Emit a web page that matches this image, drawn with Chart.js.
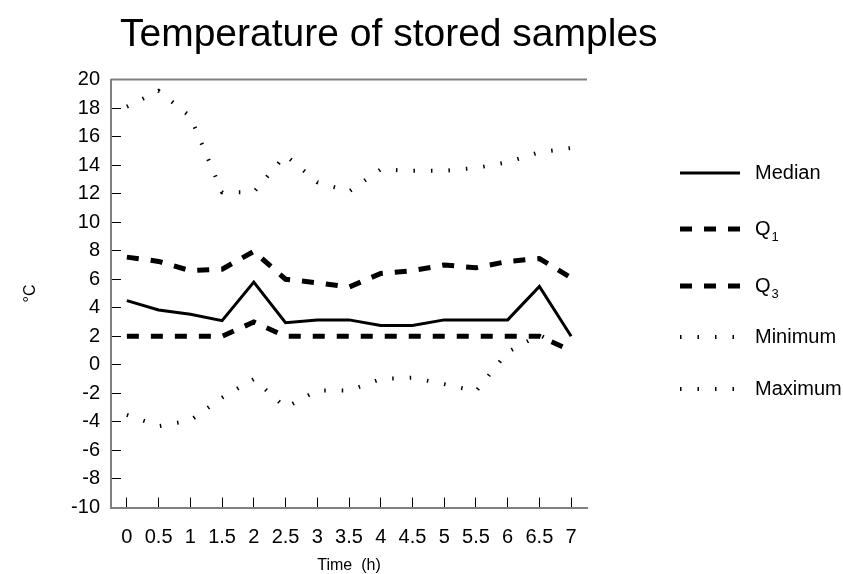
<!DOCTYPE html>
<html>
<head>
<meta charset="utf-8">
<script src="https://cdn.jsdelivr.net/npm/chart.js@4.4.0/dist/chart.umd.min.js"></script>
<style>
  html, body { margin: 0; padding: 0; background: #fff; }
  #wrap { width: 843px; height: 574px; }
</style>
</head>
<body>
<div id="wrap"><canvas id="tempChart" width="843" height="574"></canvas></div>
<script>
// data
const hours = ["0", "0.5", "1", "1.5", "2", "2.5", "3", "3.5", "4", "4.5", "5", "5.5", "6", "6.5", "7"];
const median = [4.5, 3.85, 3.55, 3.1, 5.8, 2.95, 3.15, 3.15, 2.75, 2.75, 3.15, 3.15, 3.15, 5.5, 2.0];
const q1 = [2, 2, 2, 2, 3, 2, 2, 2, 2, 2, 2, 2, 2, 2, 1];
const q3 = [7.55, 7.25, 6.6, 6.7, 7.95, 6.0, 5.75, 5.45, 6.4, 6.6, 7.0, 6.8, 7.25, 7.45, 6.1];
const minimum = [-3.5, -4.3, -3.9, -2.3, -1.0, -3.0, -1.8, -1.8, -1.0, -0.9, -1.35, -1.85, 0.9, 2.1, 0.9];
const maximum = [18.1, 19.2, 17.4, 12.1, 12.1, 14.7, 12.8, 12.15, 13.7, 13.6, 13.6, 13.8, 14.2, 14.9, 15.2];
const yMin = -10, yMax = 20, yStep = 2;

const FONT = "'Liberation Sans', Arial, sans-serif";
const legendRows = [173, 229, 286, 337, 389];

// titre, libellés d'axes et légende dessinés à la main
const extrasPlugin = {
    id: "extras",
    afterDraw(chart) {
        const ctx = chart.ctx;
        const area = chart.chartArea;
        ctx.save();

        // trait du haut du cadre
        ctx.strokeStyle = "#808080";
        ctx.lineWidth = 2;
        ctx.beginPath();
        ctx.moveTo(area.left, area.top);
        ctx.lineTo(area.right, area.top);
        ctx.stroke();

        ctx.fillStyle = "#000";
        ctx.font = "39px " + FONT;
        ctx.textAlign = "left";
        ctx.textBaseline = "alphabetic";
        ctx.fillText("Temperature of stored samples", 120, 46);

        ctx.font = "16px " + FONT;
        ctx.textAlign = "center";
        ctx.textBaseline = "middle";
        ctx.fillText("Time  (h)", (area.left + area.right) / 2, 566);

        ctx.save();
        ctx.translate(31, (area.top + area.bottom) / 2);
        ctx.rotate(-Math.PI / 2);
        ctx.fillText("\u00B0C", 0, 0);
        ctx.restore();

        chart.data.datasets.forEach((ds, i) => {
            const y = legendRows[i];
            ctx.strokeStyle = ds.borderColor;
            ctx.lineWidth = ds.borderWidth;
            ctx.setLineDash(ds.borderDash || []);
            ctx.lineCap = "butt";
            ctx.beginPath();
            ctx.moveTo(680, y);
            ctx.lineTo(740, y);
            ctx.stroke();
            ctx.setLineDash([]);

            ctx.fillStyle = "#000";
            ctx.textAlign = "left";
            ctx.textBaseline = "middle";
            const m = /^Q(\d)$/.exec(ds.label);
            if (m) {
                ctx.font = "20px " + FONT;
                ctx.fillText("Q", 755, y);
                const w = ctx.measureText("Q").width;
                ctx.font = "13px " + FONT;
                ctx.fillText(m[1], 755 + w + 1, y + 8);
            } else {
                ctx.font = "20px " + FONT;
                ctx.fillText(ds.label, 755, y);
            }
        });
        ctx.restore();
    }
};

const axisTicks = {
    grid: { drawOnChartArea: false, drawTicks: true, tickLength: -10, color: "#000", lineWidth: 1 },
    border: { color: "#808080", width: 2 }
};

new Chart(document.getElementById("tempChart"), {
    type: "line",
    data: {
        labels: hours,
        datasets: [
            { label: "Median", data: median, borderColor: "#000", borderWidth: 3, borderDash: [] },
            { label: "Q1", data: q1, borderColor: "#000", borderWidth: 5, borderDash: [12, 12] },
            { label: "Q3", data: q3, borderColor: "#000", borderWidth: 5, borderDash: [12, 12] },
            { label: "Minimum", data: minimum, borderColor: "#000", borderWidth: 4, borderDash: [1.5, 16] },
            { label: "Maximum", data: maximum, borderColor: "#000", borderWidth: 4, borderDash: [1.5, 16] }
        ]
    },
    options: {
        responsive: false,
        animation: false,
        devicePixelRatio: 1,
        elements: { point: { radius: 0 }, line: { tension: 0, fill: false } },
        layout: { padding: { left: 0, top: 79.5, right: 256, bottom: 0 } },
        plugins: { legend: { display: false }, title: { display: false }, tooltip: { enabled: false } },
        scales: {
            x: {
                type: "category",
                offset: true,
                ...axisTicks,
                grid: { ...axisTicks.grid, offset: false },
                ticks: { font: { family: FONT, size: 20 }, color: "#000", padding: 28, maxRotation: 0, autoSkip: false },
                afterFit(scale) { scale.height = 66.5; }
            },
            y: {
                min: yMin,
                max: yMax,
                ...axisTicks,
                ticks: { stepSize: yStep, font: { family: FONT, size: 20 }, color: "#000", padding: 21 },
                afterFit(scale) { scale.width = 111; }
            }
        }
    },
    plugins: [extrasPlugin]
});
</script>
</body>
</html>
